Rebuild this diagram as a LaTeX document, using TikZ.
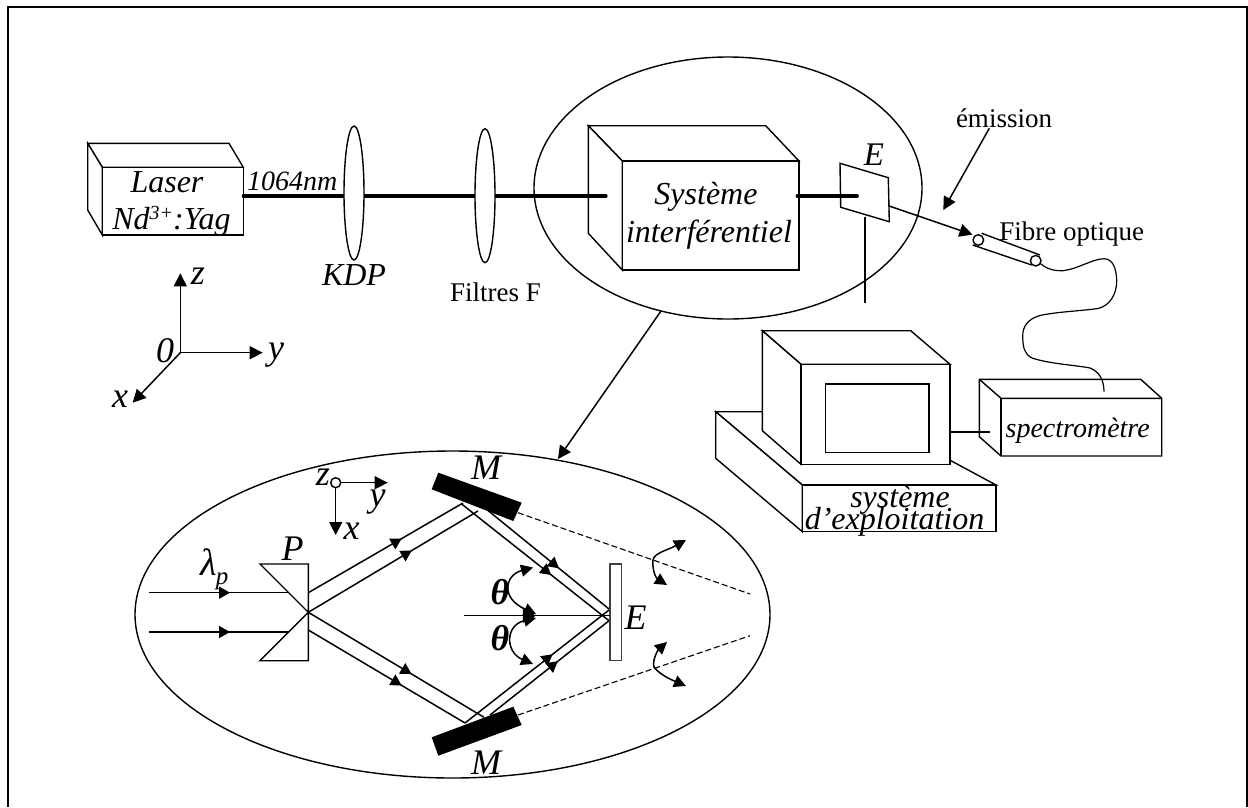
\documentclass[tikz,border=0pt]{standalone}
\usepackage{fontspec}
\setmainfont{Liberation Serif}
\usetikzlibrary{arrows.meta,decorations.markings}
\newcommand{\fsz}[1]{\fontsize{#1}{#1}\selectfont}
\tikzset{
 thinl/.style={line width=1.4pt,line join=miter},
 beam/.style={line width=3.2pt,line cap=round},
 ray/.style={line width=1.5pt},
 solidw/.style={thinl,fill=white},
 tipa/.style={-{Triangle[length=13pt,width=13pt]}},
 tipb/.style={{Triangle[length=12pt,width=12pt]}-{Triangle[length=12pt,width=12pt]}},
 midtip/.style={postaction={decorate},decoration={markings,mark=at position #1 with {\arrow{Triangle[length=11pt,width=12pt]}}}},
 bigtip/.style={postaction={decorate},decoration={markings,mark=at position #1 with {\arrow{Triangle[length=13pt,width=14pt]}}}},
 ital/.style={font=\fsz{32}\itshape,inner sep=0pt,align=center},
 itall/.style={font=\fsz{36}\itshape,inner sep=0pt},
 italb/.style={font=\fsz{36}\bfseries\itshape,inner sep=0pt},
 rom/.style={font=\fsz{27},inner sep=0pt},
 dashl/.style={line width=1.1pt,dash pattern=on 6pt off 3pt},
}
\begin{document}
\begin{tikzpicture}[x=1pt,y=-1pt]
\useasboundingbox (0,0) rectangle (1248,807);
\clip (0,0) rectangle (1248,807);
% frame
\draw[line width=2.6pt] (8,807) -- (8,7) -- (1247,7) -- (1247,807);

% upper ellipse
\draw[thinl] (728,188) ellipse [x radius=194,y radius=131];

% Laser
\draw[solidw] (87.7,143.3) -- (229,143.3) -- (243.3,167.3) -- (102.3,167.3) -- cycle;
\draw[solidw] (87.7,143.3) -- (102.3,167.3) -- (102.3,235) -- (87.7,210) -- cycle;
\draw[solidw] (102.3,167.3) rectangle (243.3,235);
\coordinate (laserout) at (243.3,196);
\coordinate (kdpc) at (354,193);
\coordinate (filc) at (485,195.7);

% Systeme box
\draw[solidw] (588.3,125.7) -- (765.7,125.7) -- (799,161) -- (622.3,161) -- cycle;
\draw[solidw] (588.3,125.7) -- (622.3,161) -- (622.3,270) -- (588.3,233.3) -- cycle;
\draw[solidw] (622.3,161) rectangle (799,270);
\coordinate (sysin) at (606,196);
\coordinate (sysout) at (797.3,196);

% Beams
\draw[beam] (laserout) -- (sysin);
% lenses
\draw[solidw] (kdpc) ellipse [x radius=10,y radius=67];
\draw[solidw] (filc) ellipse [x radius=10,y radius=67];

% screen E
\coordinate (eplate) at (857.3,196);
\draw[solidw] (840,163.3) -- (888.3,177.7) -- (889.3,221.7) -- (840.7,207.3) -- cycle;
\draw[beam] (sysout) -- (eplate);
\coordinate (vtop) at (865,217.3);
\coordinate (vbot) at (865,303);
\draw[thinl] (vtop) -- (vbot);

% emission
\coordinate (emstart) at (888.3,205.7);
\coordinate (emend) at (972.5,234.6);
\draw[ray,tipa] (emstart) -- (emend);
\node[rom] (emission) at (1004,118) {émission};
\coordinate (emlab) at (989.3,128.3);
\coordinate (emtip) at (943.3,210);
\draw[ray,tipa] (emlab) -- (emtip);

% fibre
\draw[thinl] (981.7,233.3) -- (1040,255);
\draw[thinl] (972.7,245) -- (1031.7,265);
\draw[solidw] (978.3,240) circle (5.3);
\draw[solidw] (1035.7,260.7) circle (5.3);
\node[rom] (fibre) at (1071.7,234) {Fibre optique};
\draw[line width=1.2pt] (1040,263.3)
  .. controls (1048,270) and (1056,271) .. (1063,270.7)
  .. controls (1078,269) and (1092,259) .. (1104,258.7)
  .. controls (1113,259) and (1116,268) .. (1116.7,280)
  .. controls (1117,295) and (1109,306) .. (1098,308.5)
  .. controls (1080,311) and (1055,312) .. (1040,315.5)
  .. controls (1028,319) and (1022.5,326) .. (1022.7,336.7)
  .. controls (1023,347) and (1024,354) .. (1032,358)
  .. controls (1050,364) and (1075,365) .. (1090,368)
  .. controls (1100,372) and (1104,381) .. (1104,391.7);

% Computer base
\draw[solidw] (715.7,411.7) -- (860,411.7) -- (996,485) -- (802.3,485) -- cycle;
\draw[solidw] (715.7,411.7) -- (802.3,485) -- (802.3,531.7) -- (715.7,458.3) -- cycle;
\draw[solidw] (802.3,485) rectangle (996,531.7);
% monitor
\draw[solidw] (762.3,330.7) -- (910.7,330.7) -- (950,364.3) -- (801,364.3) -- cycle;
\draw[solidw] (762.3,330.7) -- (801,364.3) -- (801,464.3) -- (762.3,430.7) -- cycle;
\draw[solidw] (801,364.3) rectangle (950,464.3);
\draw[solidw] (825.7,384) rectangle (929,452.7);
\coordinate (moncon) at (950,432);
\coordinate (specon) at (990,432);
\node[ital] (sys1) at (900,500) {système};
\node[ital] (sys2) at (894.5,522) {d’exploitation};

% spectrometer outline
\draw[thinl] (979.3,379.3) -- (1140.7,379.3) -- (1161.7,398.3) -- (1161.7,456) -- (1001,456) -- (979.3,436.7) -- cycle;
\draw[thinl] (979.3,379.3) -- (1001,398.3) -- (1161.7,398.3);
\draw[thinl] (1001,398.3) -- (1001,456);
\draw[thinl] (moncon) -- (specon);
\node[ital,font=\fsz{28}\itshape] (spec) at (1077.7,431) {spectromètre};

% top labels
\node[ital] (laser) at (167,182) {Laser};
\node[ital] (nd) at (171.5,221) {Nd\raisebox{10pt}{\fsz{20}3+}:Yag};
\node[ital,font=\fsz{28}\itshape] (nm) at (292.3,181) {1064nm};
\node[ital] (kdp) at (354,275) {KDP};
\node[rom] (filtres) at (495.5,292) {Filtres F};
\node[ital] (s1) at (706,197) {Système};
\node[ital] (s2) at (709,235) {interférentiel};
\node[ital,font=\fsz{33}\itshape] (etop) at (874,155) {E};

% axes
\coordinate (o) at (180.3,352.7);
\coordinate (oz) at (180.3,273.3);
\coordinate (oy) at (262.7,352.7);
\coordinate (ox) at (132.7,402.7);
\draw[ray,tipa] (o) -- (oz);
\draw[ray,tipa] (o) -- (oy);
\draw[ray,tipa] (o) -- (ox);
\node[itall] (lz) at (198,276) {z};
\node[itall] (ly) at (276,355) {y};
\node[itall] (l0) at (165,350.7) {0};
\node[itall] (lx) at (120,399) {x};

% connector big ellipse -> lower ellipse
\coordinate (ell1) at (661,311);
\coordinate (ell2) at (558,459);
\draw[ray,tipa] (ell1) -- (ell2);

% lower ellipse
\draw[thinl] (452.5,614.5) ellipse [x radius=317.5,y radius=163.5];

% prism
\draw[thinl] (260,564) -- (308.3,564) -- (308.3,660.7) -- (260,660.7) -- (308.3,612.3) -- cycle;
\node[itall] (lP) at (292.7,549) {P};
\node[itall,font=\fsz{38}\itshape] (ll) at (209,562) {λ};
\node[itall,font=\fsz{25}\itshape] (lp) at (222,581) {p};

% input rays
\draw[ray,midtip=0.583] (149,592.7) -- (288,592.7);
\draw[ray,midtip=0.583] (149,632) -- (288,632);

% mirrors
\fill (438.3,472.7) -- (521.7,502.7) -- (513.3,521) -- (431.7,489.3) -- cycle;
\fill (431.7,737.3) -- (513.3,706.7) -- (521.7,725) -- (438.3,755.7) -- cycle;
\node[itall] (m1) at (486,468) {M};
\node[itall] (m2) at (486,762.7) {M};

% beams prism -> mirrors
\coordinate (apex) at (308.3,612.3);
\draw[ray,midtip=0.604] (308.3,592.7) -- (463,503);
\draw[ray,midtip=0.61] (apex) -- (478,511);
\draw[ray,midtip=0.588] (apex) -- (484,717.3);
\draw[ray,midtip=0.596] (308.3,630) -- (465,723);

% reflected
\draw[ray,midtip=0.61] (461,503.5) -- (609,620.7);
\draw[ray,midtip=0.587] (488,510.5) -- (609,609);
\draw[ray,midtip=0.608] (465,723) -- (609,610);
\draw[ray,midtip=0.57] (490,715) -- (609,620.7);

% plate
\draw[solidw,draw=black!75] (610,564) rectangle (621.7,660.7);
\node[itall] (lE) at (635.7,617.7) {E};

% centre ray
\draw[ray,bigtip=0.493] (464,615.7) -- (610,615.7);
\node[italb] (t1) at (500,592) {θ};
\node[italb] (t2) at (500,638) {θ};
\draw[ray,tipb] (536,614) .. controls (500,598) and (505,575) .. (533,567.5);
\draw[ray,tipb] (536,618) .. controls (505,625) and (505,652) .. (533,664);

% dashed
\coordinate (d1a) at (518,512.7);
\coordinate (d1b) at (750,594);
\coordinate (d2a) at (518,715);
\coordinate (d2b) at (750,635.7);
\draw[dashl] (d1a) -- (d1b);
\draw[dashl] (d2a) -- (d2b);
\draw[ray,tipb] (686,540) .. controls (668,550) and (654,553) .. (653,560) .. controls (652,570) and (656,578) .. (667,585);
\draw[ray,tipb] (667,642) .. controls (658,650) and (652,660) .. (654,667) .. controls (660,675) and (672,680) .. (686,686);

% small axes
\coordinate (so) at (335.7,482.7);
\coordinate (sy) at (387.7,482.7);
\coordinate (sx) at (335.7,535);
\draw[ray,tipa] (so) -- (sy);
\draw[ray,tipa] (so) -- (sx);
\draw[solidw] (so) circle (5);
\node[itall] (sz) at (323,477) {z};
\node[itall] (syl) at (377.7,502) {y};
\node[itall] (sxl) at (351.7,531) {x};
\end{tikzpicture}
\end{document}
